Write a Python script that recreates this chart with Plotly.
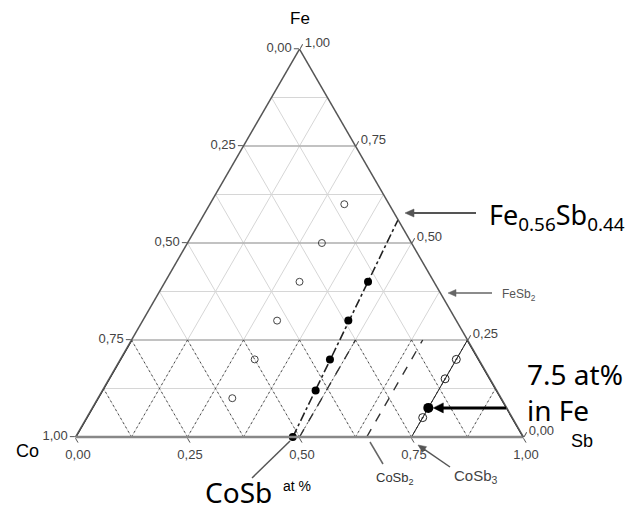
import math
import plotly.graph_objects as go

# Page and triangle placement (pixels)
W, H = 642, 511
TRI_LEFT, TRI_RIGHT, TRI_BOTTOM = 75.5, 523.5, 437.0
TRI_W = TRI_RIGHT - TRI_LEFT
TRI_H = TRI_W * 3 ** 0.5 / 2

# ---- grid / ticks ----
grid_steps = [0.125, 0.25, 0.375, 0.5, 0.625, 0.75, 0.875]
major_fe = [0.25, 0.50, 0.75]
tick_vals = [0.0, 0.25, 0.5, 0.75, 1.0]
tick_text = ["1,00", "0,75", "0,50", "0,25", "0,00"]
band_top = 0.25

# ---- samples (atomic fractions) ----
open_fe = [0.60, 0.50, 0.40, 0.30, 0.20, 0.10]
open_sb = [0.30, 0.30, 0.30, 0.30, 0.30, 0.30]

filled_fe = [0.00, 0.12, 0.20, 0.30, 0.40]
filled_sb = [0.485, 0.476, 0.468, 0.459, 0.453]

tie_fe = [0.00, 0.56]
tie_sb = [0.485, 0.44]

skutt_fe = [0.05, 0.15, 0.20]
skutt_sb = [0.75, 0.75, 0.75]
marked_fe = [0.075]
marked_sb = [0.75]
skutt_line_fe = [0.00, 0.25]
skutt_line_sb = [0.75, 0.75]

guide_sb = [0.50, 0.65]


def co_of(fe, sb):
    return [1 - f - s for f, s in zip(fe, sb)]


def tern(fe, sb, **kw):
    return go.Scatterternary(a=fe, b=co_of(fe, sb), c=sb, hoverinfo="skip",
                             showlegend=False, cliponaxis=False, **kw)


def to_px(fe, sb):
    return TRI_LEFT + TRI_W * (sb + fe / 2), TRI_BOTTOM - TRI_H * fe


def paper(x, y):
    return x / W, 1 - y / H


traces = []

# light full grid every 1/8
light = dict(color="#d6d6d6", width=1)
for s in grid_steps:
    traces.append(tern([s, s], [0.0, 1 - s], mode="lines", line=light))        # const Fe
    traces.append(tern([0.0, 1 - s], [s, s], mode="lines", line=light))        # const Sb
    traces.append(tern([0.0, 1 - s], [1 - s, 0.0], mode="lines", line=light))  # const Co

# major horizontal Fe lines
for f in major_fe:
    traces.append(tern([f, f], [0.0, 1 - f], mode="lines",
                       line=dict(color="#9a9a9a", width=1.2)))

# dotted diagonal grid in the low-Fe band
band = dict(color="#4a4a4a", width=1, dash="2px,3px")
for s in grid_steps:
    top = min(band_top, 1 - s)
    traces.append(tern([0.0, top], [s, s], mode="lines", line=band))
    traces.append(tern([0.0, top], [1 - s, 1 - s - top], mode="lines", line=band))

for s in guide_sb:
    traces.append(tern([0.0, band_top], [s, s], mode="lines",
                       line=dict(color="#333", width=1.4, dash="dash")))

# darker edges along the low-Fe band
traces.append(tern([0.0, band_top], [0.0, 0.0], mode="lines",
                   line=dict(color="black", width=2)))
traces.append(tern([0.0, band_top], [1.0, 1 - band_top], mode="lines",
                   line=dict(color="black", width=2)))

# CoSb -> Fe0.56Sb0.44 section
traces.append(tern(tie_fe, tie_sb, mode="lines",
                   line=dict(color="#222", width=1.6, dash="dashdot")))
traces.append(tern(filled_fe, filled_sb, mode="markers",
                   marker=dict(symbol="circle", size=8, color="black")))

# Sb = 0.30 series
traces.append(tern(open_fe, open_sb, mode="markers",
                   marker=dict(symbol="circle-open", size=7, color="#444",
                               line=dict(width=1))))

# CoSb3 section
traces.append(tern(skutt_line_fe, skutt_line_sb, mode="lines",
                   line=dict(color="#222", width=1)))
traces.append(tern(skutt_fe, skutt_sb, mode="markers",
                   marker=dict(symbol="circle-open-dot", size=8, color="#222",
                               line=dict(width=1))))
traces.append(tern(marked_fe, marked_sb, mode="markers",
                   marker=dict(symbol="circle", size=10, color="black")))

fig = go.Figure(traces)

axis_common = dict(
    tickmode="array", tickvals=tick_vals, ticktext=tick_text,
    showgrid=False,
    ticks="outside", ticklen=5, tickcolor="#555",
    tickfont=dict(family="Liberation Sans, Arial", size=13, color="#444"),
    linecolor="#555", linewidth=1.5, title=dict(text=""),
    min=0,
)

cy = (H - TRI_BOTTOM + TRI_H / 2) / H
half = (TRI_H / 2 + 1) / H
fig.update_layout(
    width=W, height=H,
    margin=dict(l=0, r=0, t=0, b=0),
    paper_bgcolor="white",
    ternary=dict(
        sum=1,
        domain=dict(x=[TRI_LEFT / W, TRI_RIGHT / W], y=[cy - half, cy + half]),
        bgcolor="white",
        aaxis=axis_common,
        baxis={**axis_common, "linecolor": "#888", "linewidth": 2.5},
        caxis=axis_common,
    ),
)

ann = []
shapes = []


def text(x, y, s, size, color="black", xanchor="center", family="Liberation Sans, Arial"):
    px, py = paper(x, y)
    ann.append(dict(x=px, y=py, xref="paper", yref="paper", text=s, showarrow=False,
                    xanchor=xanchor, yanchor="middle", align="left",
                    font=dict(family=family, size=size, color=color)))


def arrow(x0, y0, x1, y1, color="#555", width=1.5, head=True, hlen=9, hw=4):
    """Pointer from (x0, y0) to (x1, y1), page pixels, optional filled head."""
    dx, dy = x1 - x0, y1 - y0
    n = math.hypot(dx, dy)
    ux, uy = dx / n, dy / n
    ex, ey = (x1 - ux * hlen * 0.8, y1 - uy * hlen * 0.8) if head else (x1, y1)
    ax0, ay0 = paper(x0, y0)
    ax1, ay1 = paper(ex, ey)
    shapes.append(dict(type="line", xref="paper", yref="paper",
                       x0=ax0, y0=ay0, x1=ax1, y1=ay1,
                       line=dict(color=color, width=width)))
    if head:
        bx, by = x1 - ux * hlen, y1 - uy * hlen
        pts = [(x1, y1), (bx - uy * hw, by + ux * hw), (bx + uy * hw, by - ux * hw)]
        pp = [paper(px, py) for px, py in pts]
        path = "M {} {} L {} {} L {} {} Z".format(*[v for p in pp for v in p])
        shapes.append(dict(type="path", xref="paper", yref="paper", path=path,
                           fillcolor=color, line=dict(color=color, width=0.5)))


# vertex labels
text(300, 18, "Fe", 17)
text(27, 451, "Co", 18)
text(582, 441, "Sb", 18)

# phase labels
big = "Noto Sans, Open Sans"
text(487, 216, "Fe<sub>0.56</sub>Sb<sub>0.44</sub>", 27, xanchor="left", family=big)
arrow(476, 213, 405, 213, color="#555", width=2)

text(500, 295, "FeSb<sub>2</sub>", 12, color="#555", xanchor="left")
arrow(492, 293, 448, 293, color="#666", width=1.5, hlen=8, hw=3.5)

mx, my = to_px(marked_fe[0], marked_sb[0])
text(525, 392, "7.5 at%<br>in Fe", 28, xanchor="left", family=big)
arrow(506, my, mx + 5, my, color="black", width=3, hlen=10, hw=5)

text(238, 492, "CoSb", 28, family=big)
text(297, 486, "at %", 14)
arrow(252, 478, 290, 441, color="#555", width=1.5, head=False)

text(395, 478, "CoSb<sub>2</sub>", 13, color="#333")
arrow(383, 464, 370, 442, color="#666", width=1.5, head=False)

text(476, 476, "CoSb<sub>3</sub>", 15, color="#444")
arrow(450, 467, 418, 445, color="#555", width=1.5, hlen=8, hw=3.5)

fig.update_layout(annotations=ann, shapes=shapes)
fig.write_html("out.html")
